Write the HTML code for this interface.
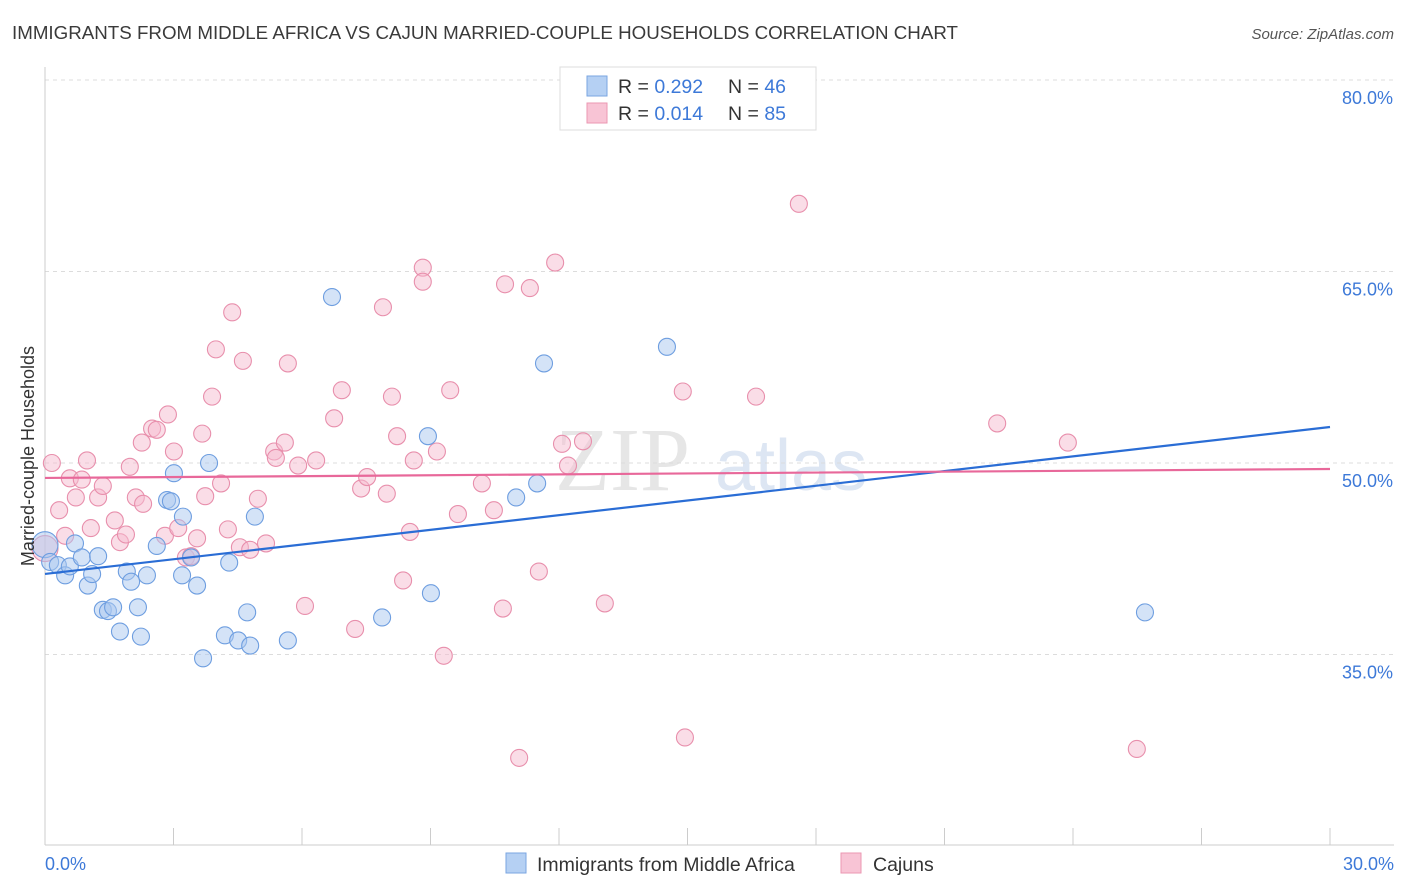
<!DOCTYPE html>
<html><head><meta charset="utf-8">
<style>
body{margin:0;background:#fff;font-family:"Liberation Sans",sans-serif;}
svg{display:block}
</style></head>
<body>
<svg id="chart" width="1406" height="892" xmlns="http://www.w3.org/2000/svg" font-family="Liberation Sans, sans-serif">
<text x="12" y="39" font-size="18.6" fill="#3a3a3a" textLength="946" lengthAdjust="spacingAndGlyphs">IMMIGRANTS FROM MIDDLE AFRICA VS CAJUN MARRIED-COUPLE HOUSEHOLDS CORRELATION CHART</text>
<text x="1394" y="39" font-size="15" fill="#555" font-style="italic" text-anchor="end">Source: ZipAtlas.com</text>
<g>
<text x="555" y="490" font-size="90" fill="#e6e6e6" font-family="Liberation Serif, serif">ZIP</text>
<text x="715" y="490" font-size="72" fill="#dde6f3">atlas</text>
</g>
<g id="grid"></g>
<g id="axes"></g>
<g id="pts"></g>
<g id="lines"></g>
<text transform="translate(34,456) rotate(-90)" font-size="18" fill="#333" text-anchor="middle">Married-couple Households</text>
<g>
<rect x="560" y="67" width="256" height="63" fill="#fff" stroke="#ddd"/>
<rect x="587" y="76" width="20" height="20" fill="#b5d0f3" stroke="#7aa6e2"/>
<rect x="587" y="103" width="20" height="20" fill="#f8c4d5" stroke="#eb97b2"/>
<text x="618" y="93" font-size="19.5" fill="#333">R = <tspan fill="#3d79d8">0.292</tspan></text>
<text x="728" y="93" font-size="19.5" fill="#333">N = <tspan fill="#3d79d8">46</tspan></text>
<text x="618" y="120" font-size="19.5" fill="#333">R = <tspan fill="#3d79d8">0.014</tspan></text>
<text x="728" y="120" font-size="19.5" fill="#333">N = <tspan fill="#3d79d8">85</tspan></text>
</g>
<g>
<rect x="506" y="853" width="20" height="20" fill="#b5d0f3" stroke="#7aa6e2"/>
<text x="537" y="871" font-size="19.5" fill="#333">Immigrants from Middle Africa</text>
<rect x="841" y="853" width="20" height="20" fill="#f8c4d5" stroke="#eb97b2"/>
<text x="873" y="871" font-size="19.5" fill="#333">Cajuns</text>
</g>
</svg>
<script>
const blueX=[0,0.12,0.30,0.47,0.58,0.70,0.86,1.00,1.10,1.24,1.35,1.47,1.59,1.75,1.91,2.01,2.17,2.24,2.38,2.61,2.85,2.94,3.01,3.20,3.22,3.41,3.55,3.69,3.83,4.20,4.30,4.51,4.72,4.79,4.90,5.67,6.70,7.87,8.94,9.01,11.00,11.49,11.65,14.52,25.68];
const blueY=[43.6,42.25,42.0,41.2,41.9,43.7,42.6,40.4,41.3,42.7,38.5,38.4,38.7,36.8,41.5,40.7,38.7,36.4,41.2,43.5,47.1,47.0,49.2,41.2,45.8,42.6,40.4,34.7,50.0,36.5,42.2,36.1,38.3,35.7,45.8,36.1,63.0,37.9,52.1,39.8,47.3,48.4,57.8,59.1,38.3];
const pinkX=[0.16,0.33,0.47,0.58,0.72,0.86,0.98,1.07,1.24,1.35,1.63,1.75,1.89,1.98,2.12,2.26,2.29,2.50,2.61,2.80,2.87,3.01,3.11,3.29,3.41,3.55,3.67,3.74,3.90,3.99,4.11,4.27,4.37,4.55,4.62,4.79,4.97,5.16,5.35,5.39,5.60,5.67,5.91,6.07,6.33,6.75,6.93,7.24,7.38,7.52,7.89,7.98,8.10,8.22,8.36,8.52,8.61,8.82,8.82,9.15,9.31,9.46,9.64,10.20,10.48,10.69,10.74,11.07,11.32,11.53,11.91,12.07,12.21,12.56,13.07,14.89,14.94,16.60,17.60,22.23,23.88,25.49,0];
const pinkY=[50.0,46.3,44.3,48.8,47.3,48.7,50.2,44.9,47.3,48.2,45.5,43.8,44.4,49.7,47.3,51.6,46.8,52.7,52.6,44.3,53.8,50.9,44.9,42.6,42.7,44.1,52.3,47.4,55.2,58.9,48.4,44.8,61.8,43.4,58.0,43.2,47.2,43.7,50.9,50.4,51.6,57.8,49.8,38.8,50.2,53.5,55.7,37.0,48.0,48.9,62.2,47.6,55.2,52.1,40.8,44.6,50.2,65.3,64.2,50.9,34.9,55.7,46.0,48.4,46.3,38.6,64.0,26.9,63.7,41.5,65.7,51.5,49.8,51.7,39.0,55.6,28.5,55.2,70.3,53.1,51.6,27.6,43.3];
const blueTrend=[41.31,52.82];
const pinkTrend=[48.83,49.53];
const yTicks=[35,50,65,80];
const xTickVals=[0,3,6,9,12,15,18,21,24,27,30];
const xLabels=["0.0%","30.0%"];

const NS="http://www.w3.org/2000/svg";
const X0=45,X1=1330,YB=463,YS=191.5/15;
function sx(v){return X0+(v/30)*(X1-X0);}
function sy(v){return YB-(v-50)*YS;}
function mk(tag,attrs,parent){const e=document.createElementNS(NS,tag);for(const k in attrs)e.setAttribute(k,attrs[k]);parent.appendChild(e);return e;}
const grid=document.getElementById('grid'),axes=document.getElementById('axes'),pts=document.getElementById('pts'),lines=document.getElementById('lines');
yTicks.forEach(t=>{
  const l=mk('line',{x1:45,x2:1394,y1:sy(t),y2:sy(t),stroke:'#dcdcdc','stroke-dasharray':'4,4'},grid);
  
  
  const tx=mk('text',{x:1393,y:sy(t)+24,'font-size':18,fill:'#3d79d8','text-anchor':'end'},axes);
  tx.textContent=t.toFixed(1)+'%';
  
  
});
const ax=mk('line',{x1:45,x2:1394,y1:845,y2:845,stroke:'#ccc'},axes);


const ay=mk('line',{x1:45,x2:45,y1:67,y2:845,stroke:'#ccc'},axes);


xTickVals.forEach(t=>{
  const l=mk('line',{x1:sx(t),x2:sx(t),y1:828,y2:845,stroke:'#ccc'},axes);
  
  
});
const xl0=mk('text',{x:45,y:870,'font-size':18,fill:'#3d79d8'},axes);xl0.textContent=xLabels[0];


const xl1=mk('text',{x:1394,y:870,'font-size':18,fill:'#3d79d8','text-anchor':'end'},axes);xl1.textContent=xLabels[1];


function drawPts(xs,ys,fill,stroke,name){
  xs.forEach((x,i)=>{
    const big=(x===0);
    const c=mk('circle',{cx:sx(x),cy:sy(ys[i]),r:big?13:8.5,fill:fill,'fill-opacity':0.5,stroke:stroke,'stroke-width':1.1},pts);
    
    
  });
}
drawPts(pinkX,pinkY,'#f6bccf','#e88fac','cajun-point');
drawPts(blueX,blueY,'#aac8f0','#6e9ee0','middle-africa-point');
const bl=mk('line',{x1:sx(0),y1:sy(blueTrend[0]),x2:sx(30),y2:sy(blueTrend[1]),stroke:'#2a6dd5','stroke-width':2.2},lines);


const pl=mk('line',{x1:sx(0),y1:sy(pinkTrend[0]),x2:sx(30),y2:sy(pinkTrend[1]),stroke:'#e8689a','stroke-width':2.2},lines);


</script>
</body></html>
